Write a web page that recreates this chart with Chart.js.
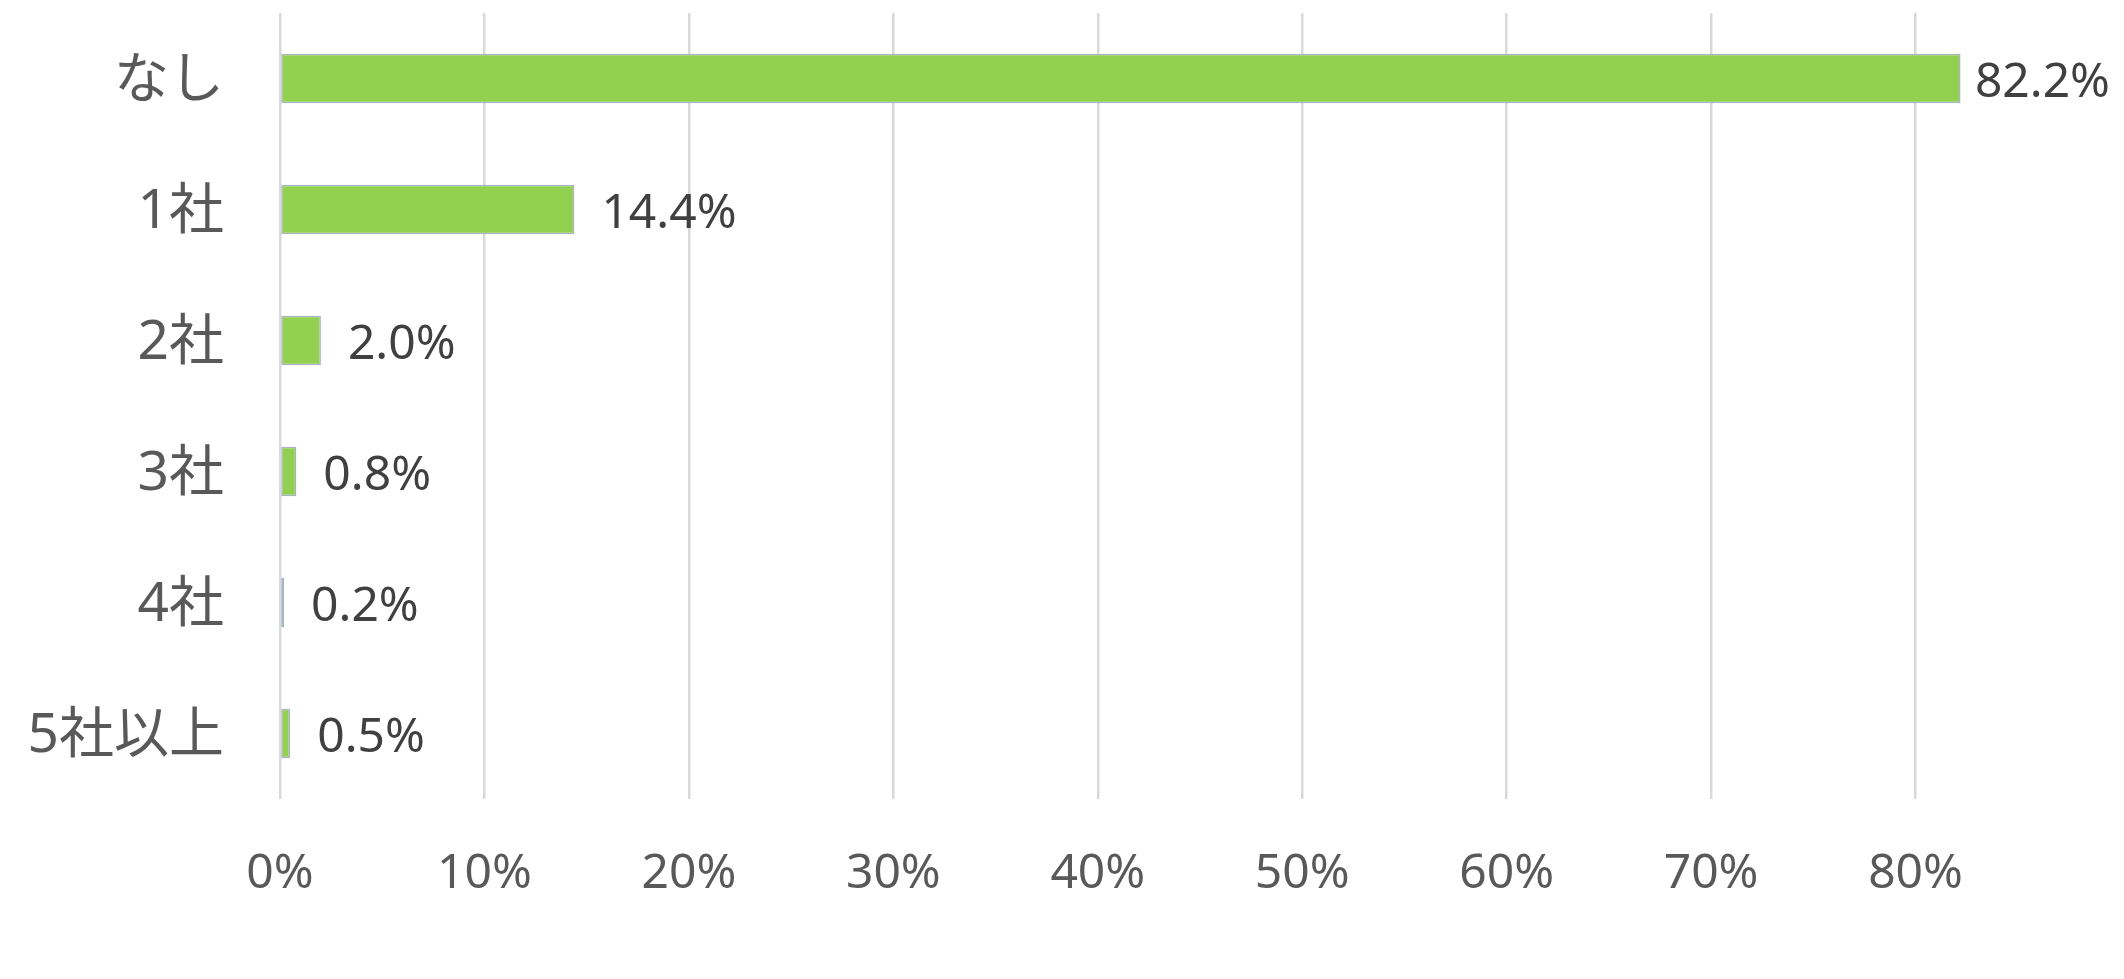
<!DOCTYPE html>
<html>
<head>
<meta charset="utf-8">
<script src="https://cdn.jsdelivr.net/npm/chart.js@4.4.1/dist/chart.umd.min.js"></script>
<style>
  html, body { margin: 0; padding: 0; background: #fff; }
  #wrap { width: 2124px; height: 979px; }
</style>
</head>
<body>
<div id="wrap"><canvas id="chart" width="2124" height="979"></canvas></div>
<script>
// number of companies -> share of respondents (%)
const categories = ['なし', '1社', '2社', '3社', '4社', '5社以上'];
const shares = [82.2, 14.4, 2.0, 0.8, 0.2, 0.5];
const xTicks = [0, 10, 20, 30, 40, 50, 60, 70, 80];

const latin = '"Noto Sans", "Noto Sans CJK JP", sans-serif';

// value labels to the right of each bar
const valueLabels = {
  id: 'valueLabels',
  afterDatasetsDraw(chart) {
    const { ctx } = chart;
    const meta = chart.getDatasetMeta(0);
    ctx.save();
    ctx.font = '48px ' + latin;
    ctx.fillStyle = '#404040';
    ctx.textBaseline = 'middle';
    meta.data.forEach((bar, i) => {
      const text = shares[i].toFixed(1) + '%';
      const w = ctx.measureText(text).width;
      let x = bar.x + 27;
      if (x + w > chart.width - 14) x = chart.width - 14 - w;   // squeeze in like Excel does
      ctx.fillText(text, x, bar.y + 5);
    });
    ctx.restore();
  }
};

new Chart(document.getElementById('chart'), {
  type: 'bar',
  data: {
    labels: categories,
    datasets: [{
      data: shares,
      backgroundColor: '#92D050',
      borderColor: '#A9B3C6',
      borderWidth: 1.5,
      borderSkipped: false,
      barPercentage: 0.378,
      categoryPercentage: 1
    }]
  },
  options: {
    indexAxis: 'y',
    responsive: false,
    animation: false,
    devicePixelRatio: 1,
    layout: { padding: { top: 13, right: 4, left: 0, bottom: 0 } },
    plugins: {
      legend: { display: false },
      tooltip: { enabled: false }
    },
    scales: {
      x: {
        min: 0,
        max: 90,
        afterBuildTicks(scale) {
          scale.ticks = xTicks.map(v => ({ value: v }));
        },
        afterFit(scale) {
          scale.height = 180;
          scale.paddingLeft = 0;
          scale.paddingRight = 0;
        },
        grid: { color: '#D9D9D9', lineWidth: 2.5, drawTicks: false },
        border: { display: false },
        ticks: {
          padding: 47,
          color: '#595959',
          font: { size: 48, family: latin },
          maxRotation: 0,
          callback: v => v + '%'
        }
      },
      y: {
        afterFit(scale) {
          scale.width = 280;
          scale.paddingTop = 0;
          scale.paddingBottom = 0;
        },
        grid: { display: false, drawTicks: false },
        border: { display: false },
        ticks: {
          padding: 56,
          labelOffset: 3,
          color: '#595959',
          font: { size: 55, family: latin }
        }
      }
    }
  },
  plugins: [valueLabels]
});
</script>
</body>
</html>
